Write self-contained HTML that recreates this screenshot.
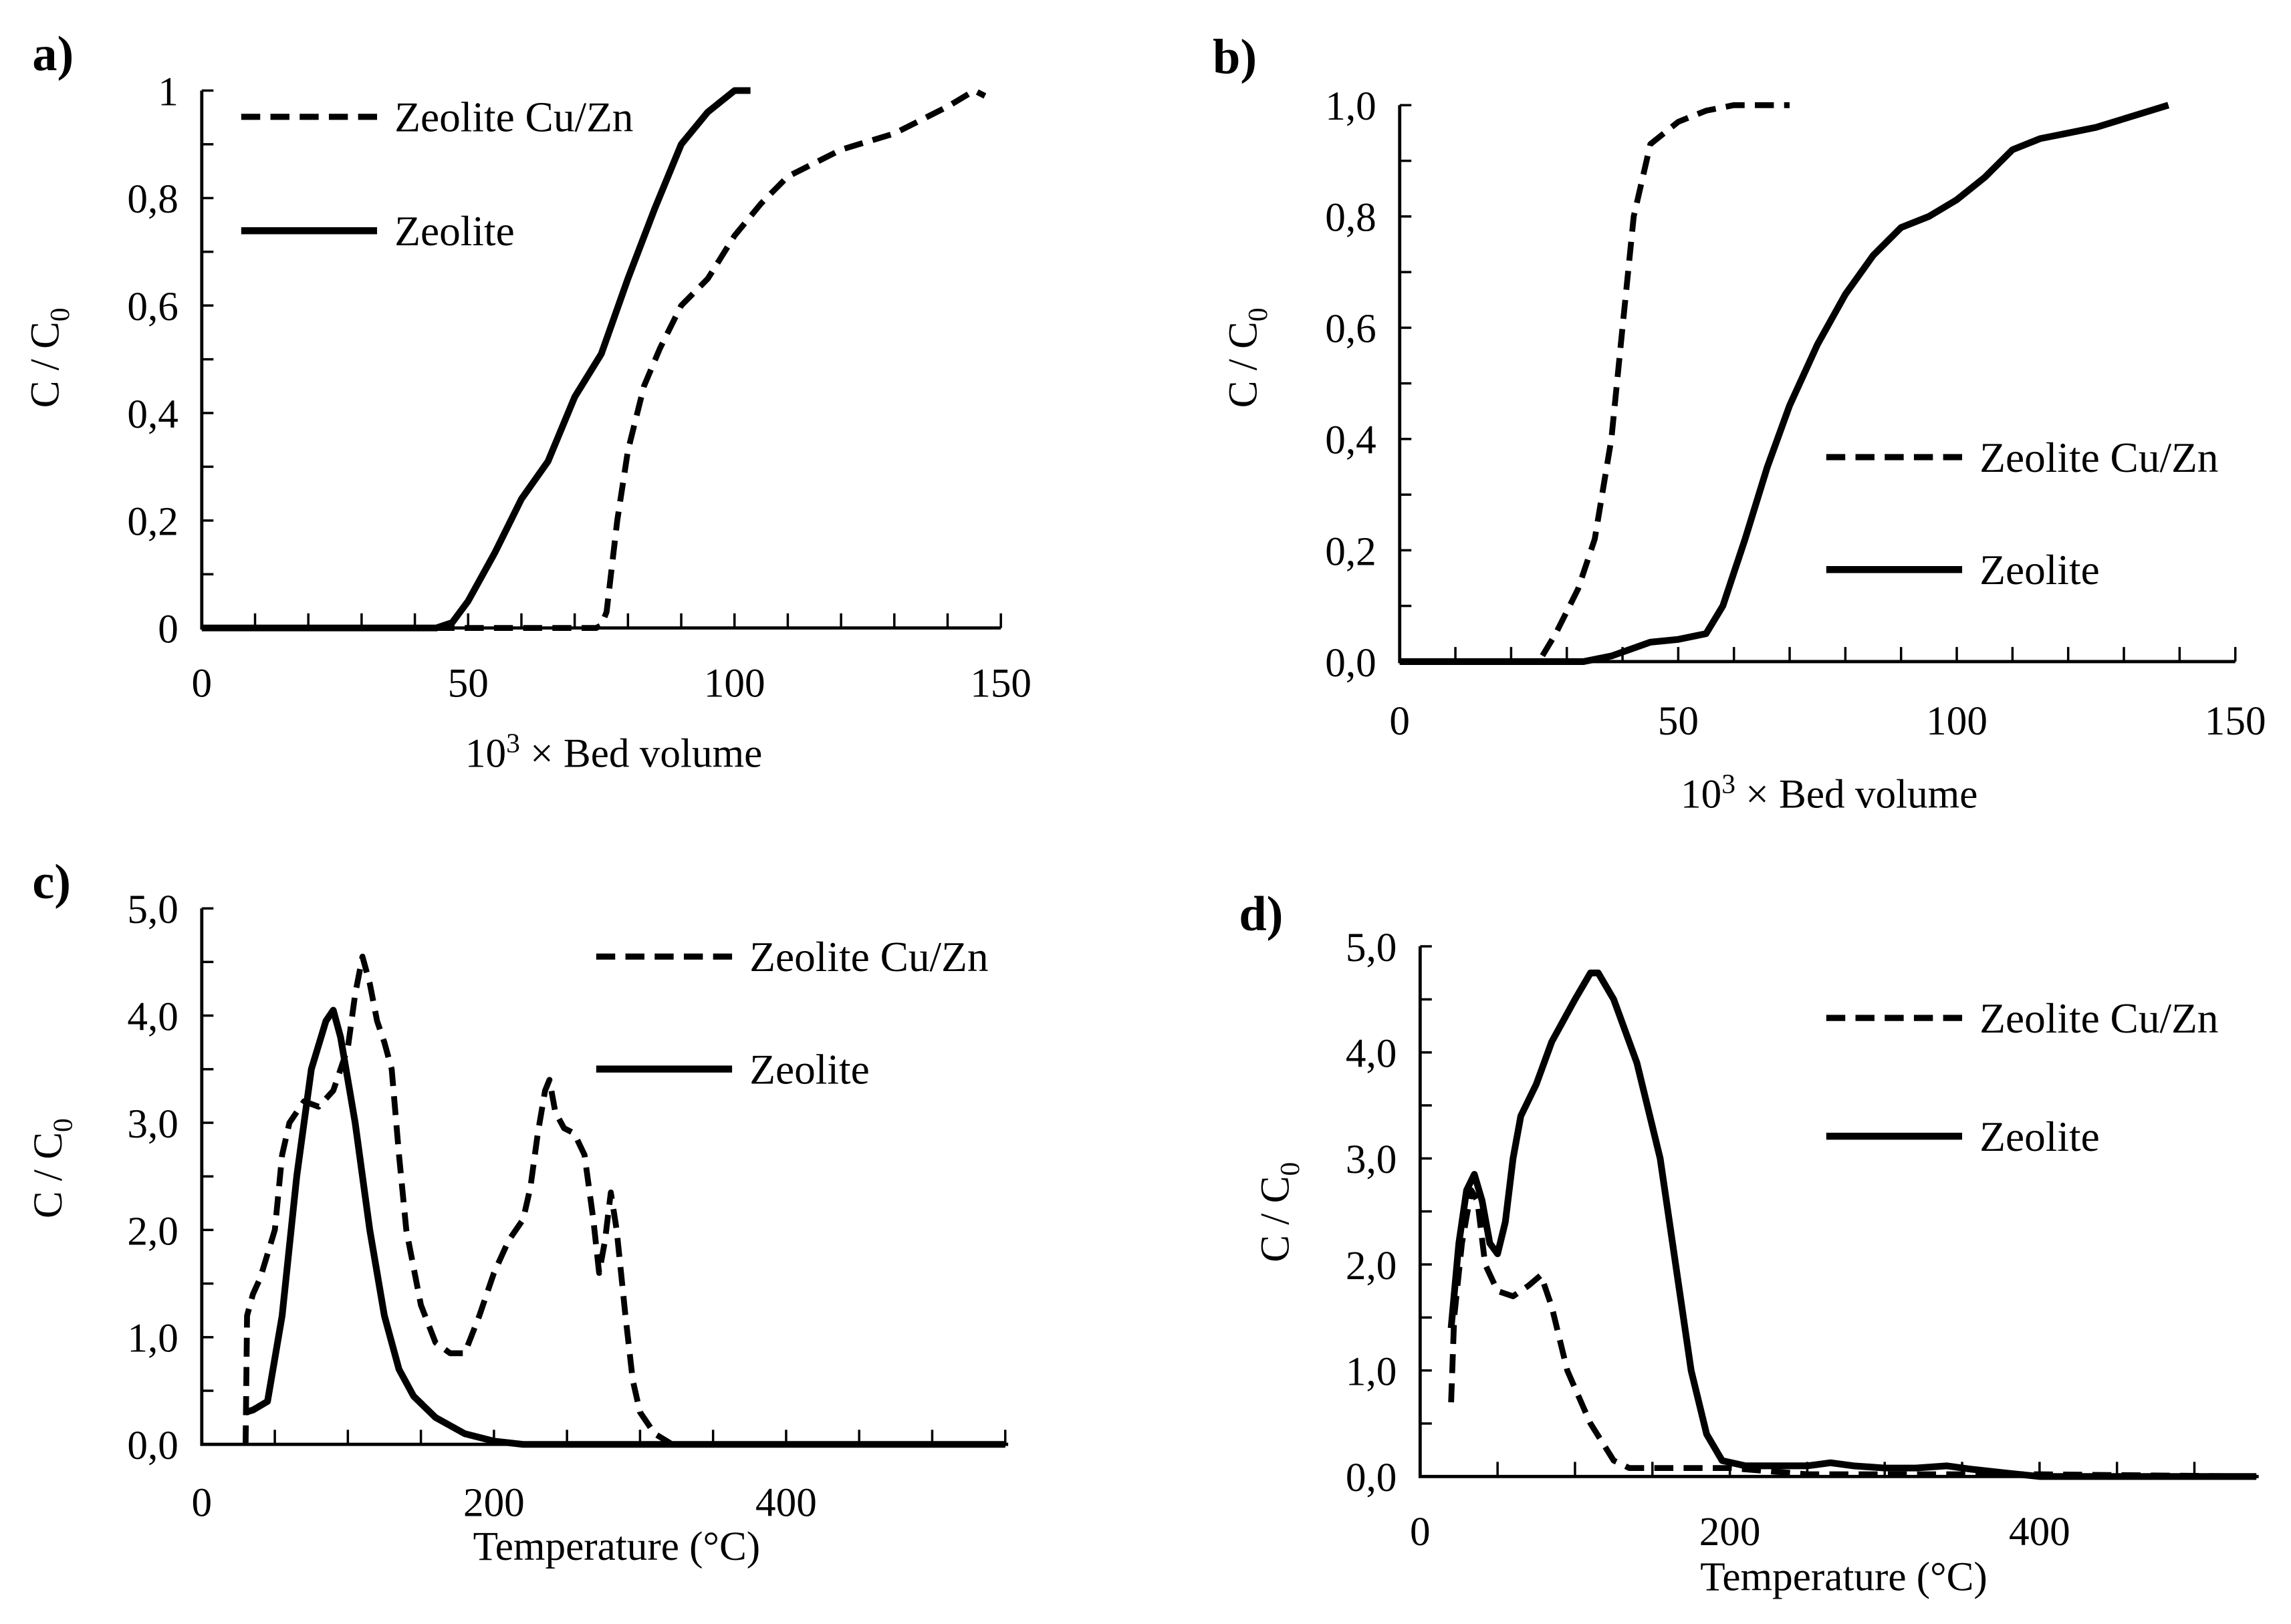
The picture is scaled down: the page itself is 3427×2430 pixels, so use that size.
<!DOCTYPE html>
<html><head><meta charset="utf-8"><style>
html,body{margin:0;padding:0;background:#fff}
svg{display:block}
text{font-family:"Liberation Serif",serif;fill:#000}
</style></head><body>
<svg id="fig" width="3427" height="2430" viewBox="0 0 1568 1112" xmlns="http://www.w3.org/2000/svg">
<text x="22" y="48" font-size="34" font-weight="bold">a)</text>
<text x="830" y="50" font-size="34" font-weight="bold">b)</text>
<text x="22" y="615" font-size="34" font-weight="bold">c)</text>
<text x="848" y="637" font-size="34" font-weight="bold">d)</text>
</svg>
<script>
// Panel a data
const aCuX=[0,74,75,76,78,80,83,86,90,95,100,105,110,120,130,140,145,147];
const aCuY=[0,0,0.005,0.03,0.2,0.33,0.45,0.52,0.6,0.65,0.73,0.79,0.84,0.89,0.92,0.97,1.0,0.99];
const aZX=[0,44,47,50,55,60,65,70,75,80,85,90,95,100,103];
const aZY=[0,0,0.01,0.05,0.14,0.24,0.31,0.43,0.51,0.65,0.78,0.9,0.96,1.0,1.0];
const aYTicks=["0","0,2","0,4","0,6","0,8","1"];
const aXTicks=["0","50","100","150"];
// Panel b data
const bCuX=[0,25,28,32,35,38,40,42,45,50,55,60,70];
const bCuY=[0,0,0.05,0.13,0.22,0.4,0.6,0.8,0.93,0.97,0.99,1.0,1.0];
const bZX=[0,33,38,45,50,55,58,62,66,70,75,80,85,90,95,100,105,110,115,120,125,138];
const bZY=[0,0,0.01,0.035,0.04,0.05,0.1,0.22,0.35,0.46,0.57,0.66,0.73,0.78,0.8,0.83,0.87,0.92,0.94,0.95,0.96,1.0];
const bYTicks=["0,0","0,2","0,4","0,6","0,8","1,0"];
const bXTicks=["0","50","100","150"];
// Panel c data
const cCuX=[30,31,35,40,50,55,60,70,80,90,95,100,105,110,115,120,125,130,135,140,150,160,170,180,190,200,210,220,225,230,235,238,242,248,255,262,268,272,276,280,284,290,295,300,310,322,550];
const cCuY=[0,1.2,1.4,1.55,2.0,2.7,3.0,3.2,3.15,3.3,3.5,3.7,4.2,4.55,4.3,3.95,3.75,3.5,2.7,2.0,1.3,0.95,0.85,0.85,1.2,1.6,1.9,2.1,2.4,2.9,3.3,3.4,3.1,2.95,2.9,2.7,2.1,1.6,1.9,2.35,2.0,1.2,0.6,0.3,0.1,0,0];
const cZX=[30,35,45,55,65,75,85,90,95,105,115,125,135,145,160,180,200,220,550];
const cZY=[0.3,0.32,0.4,1.2,2.5,3.5,3.95,4.05,3.8,3.0,2.0,1.2,0.7,0.45,0.25,0.1,0.03,0,0];
const cYTicks=["0,0","1,0","2,0","3,0","4,0","5,0"];
const cXTicks=["0","200","400"];
// Panel d data
const dCuX=[20,22,27,33,37,42,50,60,70,78,85,95,110,125,135,200,250,400,540];
const dCuY=[0.7,1.5,2.2,2.7,2.6,2.0,1.75,1.7,1.8,1.9,1.6,1.0,0.5,0.15,0.08,0.08,0.02,0.02,0];
const dZX=[20,25,30,35,40,45,50,55,60,65,75,85,100,110,115,125,140,155,165,175,185,195,210,230,250,265,280,300,320,340,355,380,400,540];
const dZY=[1.4,2.2,2.7,2.85,2.6,2.2,2.1,2.4,3.0,3.4,3.7,4.1,4.5,4.75,4.75,4.5,3.9,3.0,2.0,1.0,0.4,0.15,0.1,0.1,0.1,0.13,0.1,0.08,0.08,0.1,0.07,0.03,0,0];
const dYTicks=["0,0","1,0","2,0","3,0","4,0","5,0"];
const dXTicks=["0","200","400"];

const NS="http://www.w3.org/2000/svg";
const svg=document.getElementById('fig');
function mk(tag,attrs){const e=document.createElementNS(NS,tag);for(const k in attrs)e.setAttribute(k,attrs[k]);svg.appendChild(e);return e;}

function panel(p){
  const sx=v=>p.x0+(v-p.xmin)/(p.xmax-p.xmin)*(p.x1-p.x0);
  const sy=v=>p.y0-(v-p.ymin)/(p.ymax-p.ymin)*(p.y0-p.y1);
  let ax=mk('path',{d:`M${p.x0},${p.y1}V${p.y0}H${p.xend}`,stroke:'#000','stroke-width':2.2,fill:'none'});
  
  
  let d='';
  for(let v=p.ymin;v<=p.ymax+1e-9;v+=p.yminor){d+=`M${p.x0},${sy(v)}h8`;}
  for(let v=p.xmin;sx(v)<=p.xend+1;v+=p.xminor){d+=`M${sx(v)},${p.y0}v-10`;}
  let tk=mk('path',{d:d,stroke:'#000','stroke-width':1.6,fill:'none'});
  
  
  p.yt.forEach((t,i)=>{
    const v=p.ymin+i*(p.ymax-p.ymin)/(p.yt.length-1);
    const e=mk('text',{x:p.x0-16,y:sy(v)+10,'font-size':28,'text-anchor':'end'});e.textContent=t;
    
    
  });
  p.xt.forEach((t,i)=>{
    const v=p.xmin+i*p.xstep;
    const e=mk('text',{x:sx(v),y:p.xly,'font-size':28,'text-anchor':'middle'});e.textContent=t;
    
    
  });
  const xt=mk('text',{x:p.xtx,y:p.xty,'font-size':28,'text-anchor':'middle'});
  xt.innerHTML=p.xtitle;
  
  
  const yt=mk('text',{x:0,y:0,'font-size':28,'text-anchor':'middle',transform:`translate(${p.ytx},${p.yty}) rotate(-90)`});
  yt.innerHTML='C / C<tspan font-size="19" dy="7">0</tspan>';
  
  
  const line=(X,Y,dash,name)=>{
    const pts=X.map((x,i)=>sx(x).toFixed(1)+','+sy(Y[i]).toFixed(1)).join(' ');
    const a={points:pts,fill:'none',stroke:'#000','stroke-width':dash?4:4.6,'stroke-linejoin':'round'};
    if(dash)a['stroke-dasharray']='13,7';
    const e=mk('polyline',a);
    
    
  };
  line(p.cuX,p.cuY,true,p.id+'-series-zeolite-cu-zn');
  line(p.zX,p.zY,false,p.id+'-series-zeolite');
  const l1=mk('line',{x1:p.lx,x2:p.lx+93,y1:p.ly1,y2:p.ly1,stroke:'#000','stroke-width':4.2,'stroke-dasharray':'13,7'});
  
  
  const t1=mk('text',{x:p.lx+105,y:p.ly1+10,'font-size':29});t1.textContent='Zeolite Cu/Zn';
  
  
  const l2=mk('line',{x1:p.lx,x2:p.lx+93,y1:p.ly2,y2:p.ly2,stroke:'#000','stroke-width':4.8});
  
  
  const t2=mk('text',{x:p.lx+105,y:p.ly2+10,'font-size':29});t2.textContent='Zeolite';
  
  
}
const bedTitle='10<tspan font-size="19" dy="-10">3</tspan><tspan dy="10"> × Bed volume</tspan>';
panel({id:'panel-a',x0:138,x1:685,xend:685,y0:430,y1:62,xmin:0,xmax:150,ymin:0,ymax:1,yminor:0.1,xminor:10,xstep:50,
 yt:aYTicks,xt:aXTicks,xly:477,xtitle:bedTitle,xtx:420,xty:525,ytx:40,yty:245,
 cuX:aCuX,cuY:aCuY,zX:aZX,zY:aZY,lx:165,ly1:80,ly2:158});
panel({id:'panel-b',x0:958,x1:1530,xend:1530,y0:453,y1:72,xmin:0,xmax:150,ymin:0,ymax:1,yminor:0.1,xminor:10,xstep:50,
 yt:bYTicks,xt:bXTicks,xly:503,xtitle:bedTitle,xtx:1252,xty:553,ytx:860,yty:245,
 cuX:bCuX,cuY:bCuY,zX:bZX,zY:bZY,lx:1250,ly1:313,ly2:390});
panel({id:'panel-c',x0:138,x1:338,xend:690,y0:989,y1:622,xmin:0,xmax:200,ymin:0,ymax:5,yminor:0.5,xminor:50,xstep:200,
 yt:cYTicks,xt:cXTicks,xly:1038,xtitle:'Temperature (°C)',xtx:422,xty:1068,ytx:42,yty:800,
 cuX:cCuX,cuY:cCuY,zX:cZX,zY:cZY,lx:408,ly1:655,ly2:732});
panel({id:'panel-d',x0:972,x1:1184,xend:1546,y0:1011,y1:648,xmin:0,xmax:200,ymin:0,ymax:5,yminor:0.5,xminor:50,xstep:200,
 yt:dYTicks,xt:dXTicks,xly:1058,xtitle:'Temperature (°C)',xtx:1262,xty:1089,ytx:882,yty:830,
 cuX:dCuX,cuY:dCuY,zX:dZX,zY:dZY,lx:1250,ly1:697,ly2:778});
</script>
</body></html>
